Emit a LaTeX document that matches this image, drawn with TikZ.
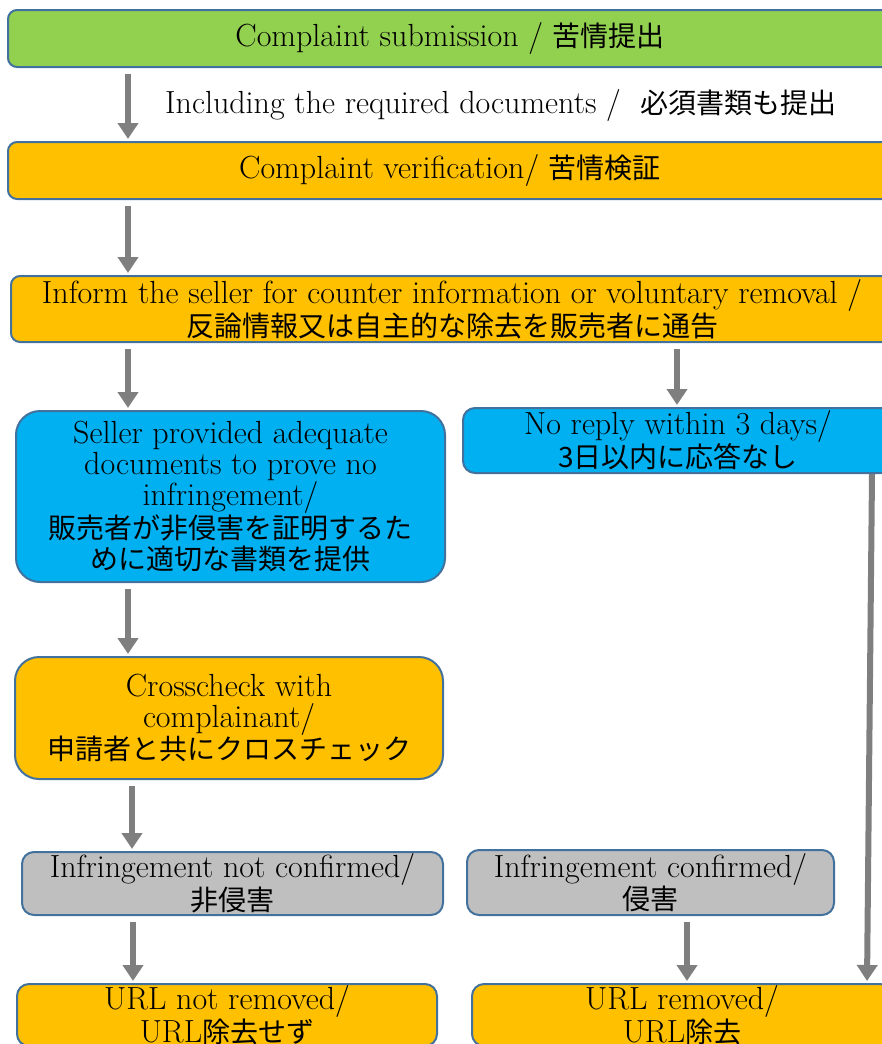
\documentclass[tikz,border=0pt]{standalone}
\usepackage{fontspec}
\newfontfamily\jpfam{Noto Sans CJK JP}
\newcommand\jp{\jpfam\fontsize{28}{31}\selectfont}
\usetikzlibrary{arrows.meta}
\definecolor{bord}{HTML}{41719C}
\definecolor{cgreen}{HTML}{92D050}
\definecolor{corange}{HTML}{FFC000}
\definecolor{cblue}{HTML}{00B0F0}
\definecolor{cgray}{HTML}{BFBFBF}
\definecolor{carrow}{HTML}{7F7F7F}
\begin{document}
\begin{tikzpicture}[x=1pt,y=-1pt,
  box/.style={draw=bord, line width=2pt, align=center, inner sep=0pt,
    font=\fontsize{32}{31}\selectfont, rounded corners=#1},
  box/.default=9pt,
  arr/.style={draw=carrow, line width=6pt,
    -{Triangle[width=20pt,length=16pt]}, shorten <=6pt, shorten >=2pt}]
\useasboundingbox (0,0) rectangle (882,1044);

\node[box, fill=cgreen, minimum width=884pt, minimum height=57pt] (sub) at (450,38.5)
  {Complaint submission / {\jp 苦情提出}};
\node[anchor=west, inner sep=0pt, font=\fontsize{32}{31}\selectfont] (lab) at (165,105)
  {Including the required documents /\ \ {\jp 必須書類も提出}};
\node[box, fill=corange, minimum width=884pt, minimum height=57pt] (ver) at (450,170.5)
  {Complaint verification/ {\jp 苦情検証}};
\node[box, fill=corange, minimum width=882pt, minimum height=66pt] (inf) at (452,309)
  {Inform the seller for counter information or voluntary removal /\\ {\jp 反論情報又は自主的な除去を販売者に通告}};
\node[box=24pt, fill=cblue, minimum width=429pt, minimum height=171pt] (sel) at (230.5,496.5)
  {Seller provided adequate\\ documents to prove no\\ infringement/\\ {\jp 販売者が非侵害を証明するた}\\ {\jp めに適切な書類を提供}};
\node[box=12pt, fill=cblue, minimum width=430pt, minimum height=65pt] (nor) at (678,440.5)
  {No reply within 3 days/\\ {\jp 3日以内に応答なし}};
\node[box=24pt, fill=corange, minimum width=428pt, minimum height=122pt] (cro) at (229,718)
  {Crosscheck with\\ complainant/\\ {\jp 申請者と共にクロスチェック}};
\node[box=12pt, fill=cgray, minimum width=421pt, minimum height=63pt] (nic) at (232.5,883.5)
  {Infringement not confirmed/\\ {\jp 非侵害}};
\node[box=12pt, fill=cgray, minimum width=367pt, minimum height=65pt] (ic) at (650.5,882.5)
  {Infringement confirmed/\\ {\jp 侵害}};
\node[box=12pt, fill=corange, minimum width=420pt, minimum height=62pt] (urn) at (227,1015)
  {URL not removed/\\ URL{\jp 除去せず}};
\node[box=12pt, fill=corange, minimum width=420pt, minimum height=62pt] (ur) at (682,1015)
  {URL removed/\\ URL{\jp 除去}};

\draw[arr] (sub.south -| 128,0) -- (ver.north -| 128,0);
\draw[arr] (ver.south -| 128,0) -- (inf.north -| 128,0);
\draw[arr] (inf.south -| 128,0) -- (sel.north -| 128,0);
\draw[arr] (inf.south -| 677,0) -- (nor.north -| 677,0);
\draw[arr] (sel.south -| 128,0) -- (cro.north -| 128,0);
\draw[arr] (cro.south -| 132,0) -- (nic.north -| 132,0);
\draw[arr] (nic.south -| 133,0) -- (urn.north -| 133,0);
\draw[arr] (ic.south -| 687,0) -- (ur.north -| 687,0);
\draw[arr, shorten <=0pt] (nor.south -| 872,0) -- (ur.north -| 867,0);
\end{tikzpicture}
\end{document}
